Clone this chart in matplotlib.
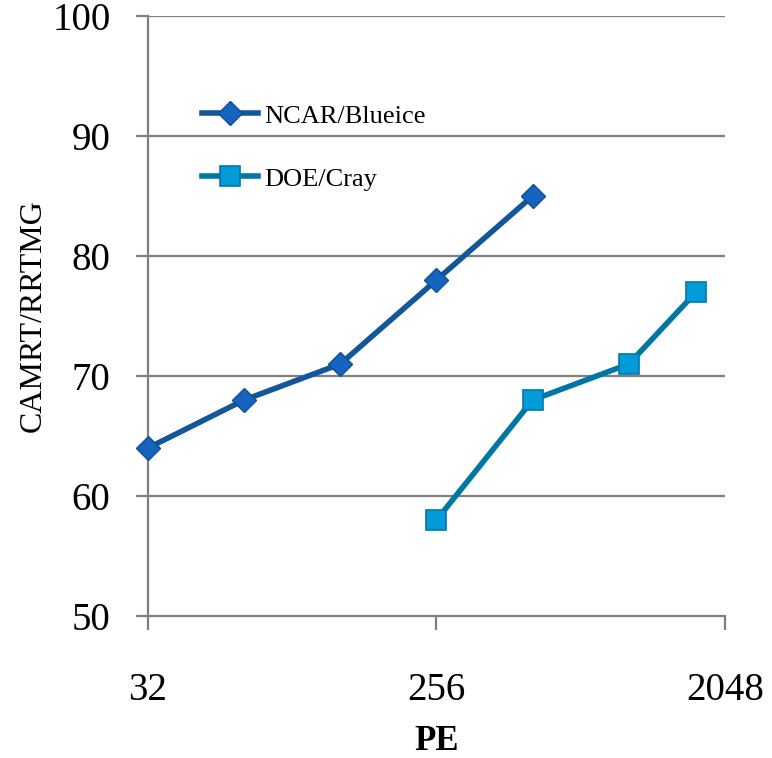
import numpy as np
import matplotlib
matplotlib.use("Agg")
import matplotlib.pyplot as plt

# processor counts and CAMRT/RRTMG ratios
ncar_pe = [32, 64, 128, 256, 512]
ncar_ratio = [64, 68, 71, 78, 85]
doe_pe = [256, 512, 1024, 1664]
doe_ratio = [58, 68, 71, 77]
xticks = [32, 256, 2048]
yticks = [50, 60, 70, 80, 90, 100]

plt.rcParams['font.family'] = ['Liberation Serif', 'DejaVu Serif']

fig = plt.figure(figsize=(7.72, 7.58), dpi=100)
ax = fig.add_axes([148/772, 1-616/758, 577/772, 600/758])

grid_c = '#7f7f7f'
ax.plot(ncar_pe, ncar_ratio, color='#14569a', lw=4, marker='D', ms=12.5,
        mfc='#1565c0', mec='#0f4f8f', mew=1, label='NCAR/Blueice', zorder=3,
        clip_on=False)
ax.plot(doe_pe, doe_ratio, color='#0077a3', lw=4, marker='s', ms=14,
        mfc='#009bd8', mec='#0079a8', mew=1.2, label='DOE/Cray', zorder=3,
        clip_on=False)

ax.set_xscale('log', base=2)
ax.set_xlim(32, 2048)
ax.set_ylim(50, 100)
ax.set_xticks(xticks)
ax.set_xticklabels([str(v) for v in xticks])
ax.xaxis.set_minor_locator(matplotlib.ticker.NullLocator())
ax.set_yticks(yticks)
ax.set_yticklabels([str(v) for v in yticks])

# horizontal gridlines at every major y tick
for y in yticks[1:]:
    ax.axhline(y, color=grid_c, lw=1.6, zorder=1)

for s in ['top', 'right']:
    ax.spines[s].set_visible(False)
ax.spines['left'].set_color(grid_c)
ax.spines['left'].set_linewidth(1.6)
ax.spines['bottom'].set_color(grid_c)
ax.spines['bottom'].set_linewidth(1.6)

ax.tick_params(axis='y', length=9, width=1.6, color=grid_c, pad=18, labelsize=28)
ax.tick_params(axis='x', length=10, width=1.6, color=grid_c, pad=30, labelsize=28)

ax.set_ylabel('CAMRT/RRTMG', fontsize=23, labelpad=3)
ax.set_xlabel('PE', fontsize=25, fontweight='bold', labelpad=12)

ax.legend(loc='upper left', bbox_to_anchor=(0.071, 0.875), frameon=False,
          fontsize=19, labelspacing=1.5, handlelength=2.1, handletextpad=0.25,
          borderpad=0)

fig.savefig('out.png', dpi=100)
